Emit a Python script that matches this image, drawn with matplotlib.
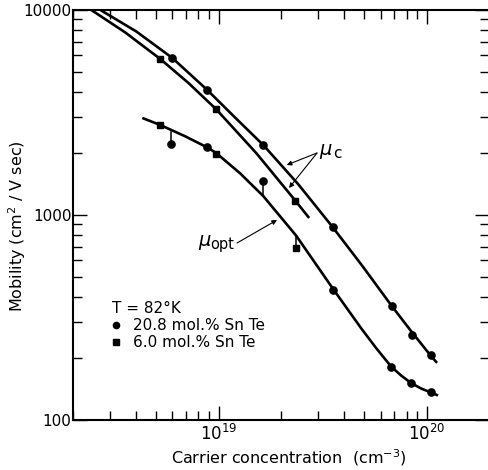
import matplotlib
matplotlib.use('Agg')
import matplotlib.pyplot as plt
from matplotlib.ticker import NullFormatter, LogLocator

plt.rcParams['font.family'] = ['DejaVu Sans', 'Noto Sans']
plt.rcParams['mathtext.fontset'] = 'dejavusans'

# ---------------- data (carrier concentration cm^-3, mobility cm^2/V s) -------------
# mu_c curve, 20.8 mol.% SnTe
curve_c208_n = [2.71e18, 4.03e18, 6.0e18, 8.83e18, 1.20e19, 1.64e19, 2.41e19, 3.53e19,
                4.89e19, 6.79e19, 8.47e19, 1.049e20, 1.121e20]
curve_c208_mu = [10000, 7854, 5833, 4072, 2990, 2195, 1416, 874, 567, 360, 269, 205, 190]
# mu_c curve, 6.0 mol.% SnTe
curve_c60_n = [2.45e18, 3.567e18, 5.251e18, 7.154e18, 9.75e18, 1.517e19, 2.347e19, 2.724e19]
curve_c60_mu = [10000, 7767, 5768, 4415, 3278, 2006, 1170, 967]
# mu_opt curve
curve_opt_n = [4.305e18, 5.251e18, 6.92e18, 8.83e18, 9.75e18, 1.271e19, 1.639e19, 2.36e19,
               3.552e19, 4.89e19, 5.711e19, 6.742e19, 7.53e19, 8.41e19, 9.39e19,
               1.049e20, 1.133e20]
curve_opt_mu = [2974, 2748, 2420, 2135, 2006, 1595, 1238, 793, 435.5, 276.4, 224.5,
                182.4, 164.9, 151.5, 142.5, 136.2, 131.7]

# measured points
c208_hall_n = [6.0e18, 8.8e18, 1.64e19, 3.53e19, 6.8e19, 8.5e19, 1.05e20]
c208_hall_mu = [5810, 4075, 2195, 874, 360, 261, 207]
c60_hall_n = [5.25e18, 9.75e18, 2.34e19]
c60_hall_mu = [5770, 3283, 1170]
c208_opt_n = [5.93e18, 8.83e18, 1.63e19, 3.56e19, 6.74e19, 8.41e19, 1.05e20]
c208_opt_mu = [2218, 2148, 1466, 429, 182, 151, 137]
c60_opt_n = [5.25e18, 9.75e18, 2.35e19]
c60_opt_mu = [2749, 1973, 688]

# stems joining off-curve points to the mu_opt curve
stem_n = [5.93e18, 1.63e19, 2.35e19]
stem_from = [2218, 1466, 688]
stem_to = [2554, 1245, 790]

x_ticks = [1e19, 1e20]
x_tick_labels = ['$10^{19}$', '$10^{20}$']
y_ticks = [100, 1000, 10000]
y_tick_labels = ['100', '1000', '10000']

# ---------------- figure ----------------
W, H = 488, 470
fig = plt.figure(figsize=(W / 100, H / 100), dpi=100)
ax = fig.add_axes([73 / W, 1 - 420 / H, (489.4 - 73) / W, 410 / H])

def fx(x):
    return x / W

def fy(y):
    return 1 - y / H

lw = 1.9
for cn, cm in [(curve_c208_n, curve_c208_mu), (curve_c60_n, curve_c60_mu),
               (curve_opt_n, curve_opt_mu)]:
    ax.plot(cn, cm, color='black', lw=lw, solid_capstyle='butt', solid_joinstyle='round')

for n, a, b in zip(stem_n, stem_from, stem_to):
    ax.plot([n, n], [a, b], color='black', lw=1.1)

ax.plot(c208_hall_n, c208_hall_mu, 'o', color='black', ms=5.2, ls='none')
ax.plot(c208_opt_n, c208_opt_mu, 'o', color='black', ms=5.2, ls='none')
ax.plot(c60_hall_n, c60_hall_mu, 's', color='black', ms=4.6, ls='none')
ax.plot(c60_opt_n, c60_opt_mu, 's', color='black', ms=4.6, ls='none')

ax.set_xscale('log')
ax.set_yscale('log')
ax.set_xlim(2e18, 2e20)
ax.set_ylim(100, 10000)

ax.xaxis.set_minor_locator(LogLocator(base=10, subs=range(2, 10)))
ax.yaxis.set_minor_locator(LogLocator(base=10, subs=range(2, 10)))
ax.set_xticks(x_ticks, x_tick_labels)
ax.set_yticks(y_ticks, y_tick_labels)
ax.xaxis.set_minor_formatter(NullFormatter())
ax.yaxis.set_minor_formatter(NullFormatter())

ax.tick_params(which='both', direction='in', top=True, right=True, width=1.0, color='black')
ax.tick_params(which='major', length=10)
ax.tick_params(which='minor', length=6.5)
ax.tick_params(axis='y', which='major', labelsize=11, pad=1)
ax.tick_params(axis='x', which='major', labelsize=12, pad=3)

for s in ax.spines.values():
    s.set_linewidth(1.5)

# axis labels
fig.text(fx(289), fy(463), 'Carrier concentration  (cm$^{-3}$)', fontsize=11.5,
         ha='center', va='baseline')
fig.text(fx(17), fy(226), 'Mobility (cm$^{2}$ / V sec)', fontsize=11.5,
         ha='center', va='center', rotation=90)

# annotations
arrow = dict(arrowstyle='-|>', lw=0.8, color='black', mutation_scale=7,
             shrinkA=0, shrinkB=0)
ax.annotate('', xy=(fx(286.7), fy(165)), xytext=(fx(317), fy(153)),
            xycoords='figure fraction', textcoords='figure fraction', arrowprops=arrow)
ax.annotate('', xy=(fx(289), fy(188)), xytext=(fx(317), fy(153)),
            xycoords='figure fraction', textcoords='figure fraction', arrowprops=arrow)
fig.text(fx(319), fy(155), r'$\mu$', fontsize=14, ha='left', va='baseline')
fig.text(fx(333), fy(157.5), 'c', fontsize=11, ha='left', va='baseline')

ax.annotate('', xy=(fx(277), fy(220)), xytext=(fx(237), fy(243)),
            xycoords='figure fraction', textcoords='figure fraction', arrowprops=arrow)
fig.text(fx(198), fy(246.5), r'$\mu$', fontsize=14, ha='left', va='baseline')
fig.text(fx(210.5), fy(249), 'opt', fontsize=10.5, ha='left', va='baseline')

# legend block
fig.text(fx(112), fy(313), 'T = 82°K', fontsize=11, ha='left', va='baseline')
ax.plot([fx(116)], [fy(325)], 'o', color='black', ms=4.5, transform=fig.transFigure,
        clip_on=False)
fig.text(fx(133), fy(329.5), '20.8 mol.% Sn Te', fontsize=11, ha='left', va='baseline')
ax.plot([fx(116)], [fy(342)], 's', color='black', ms=4.2, transform=fig.transFigure,
        clip_on=False)
fig.text(fx(133), fy(346.7), '6.0 mol.% Sn Te', fontsize=11, ha='left', va='baseline')

fig.savefig('out.png', dpi=100)
